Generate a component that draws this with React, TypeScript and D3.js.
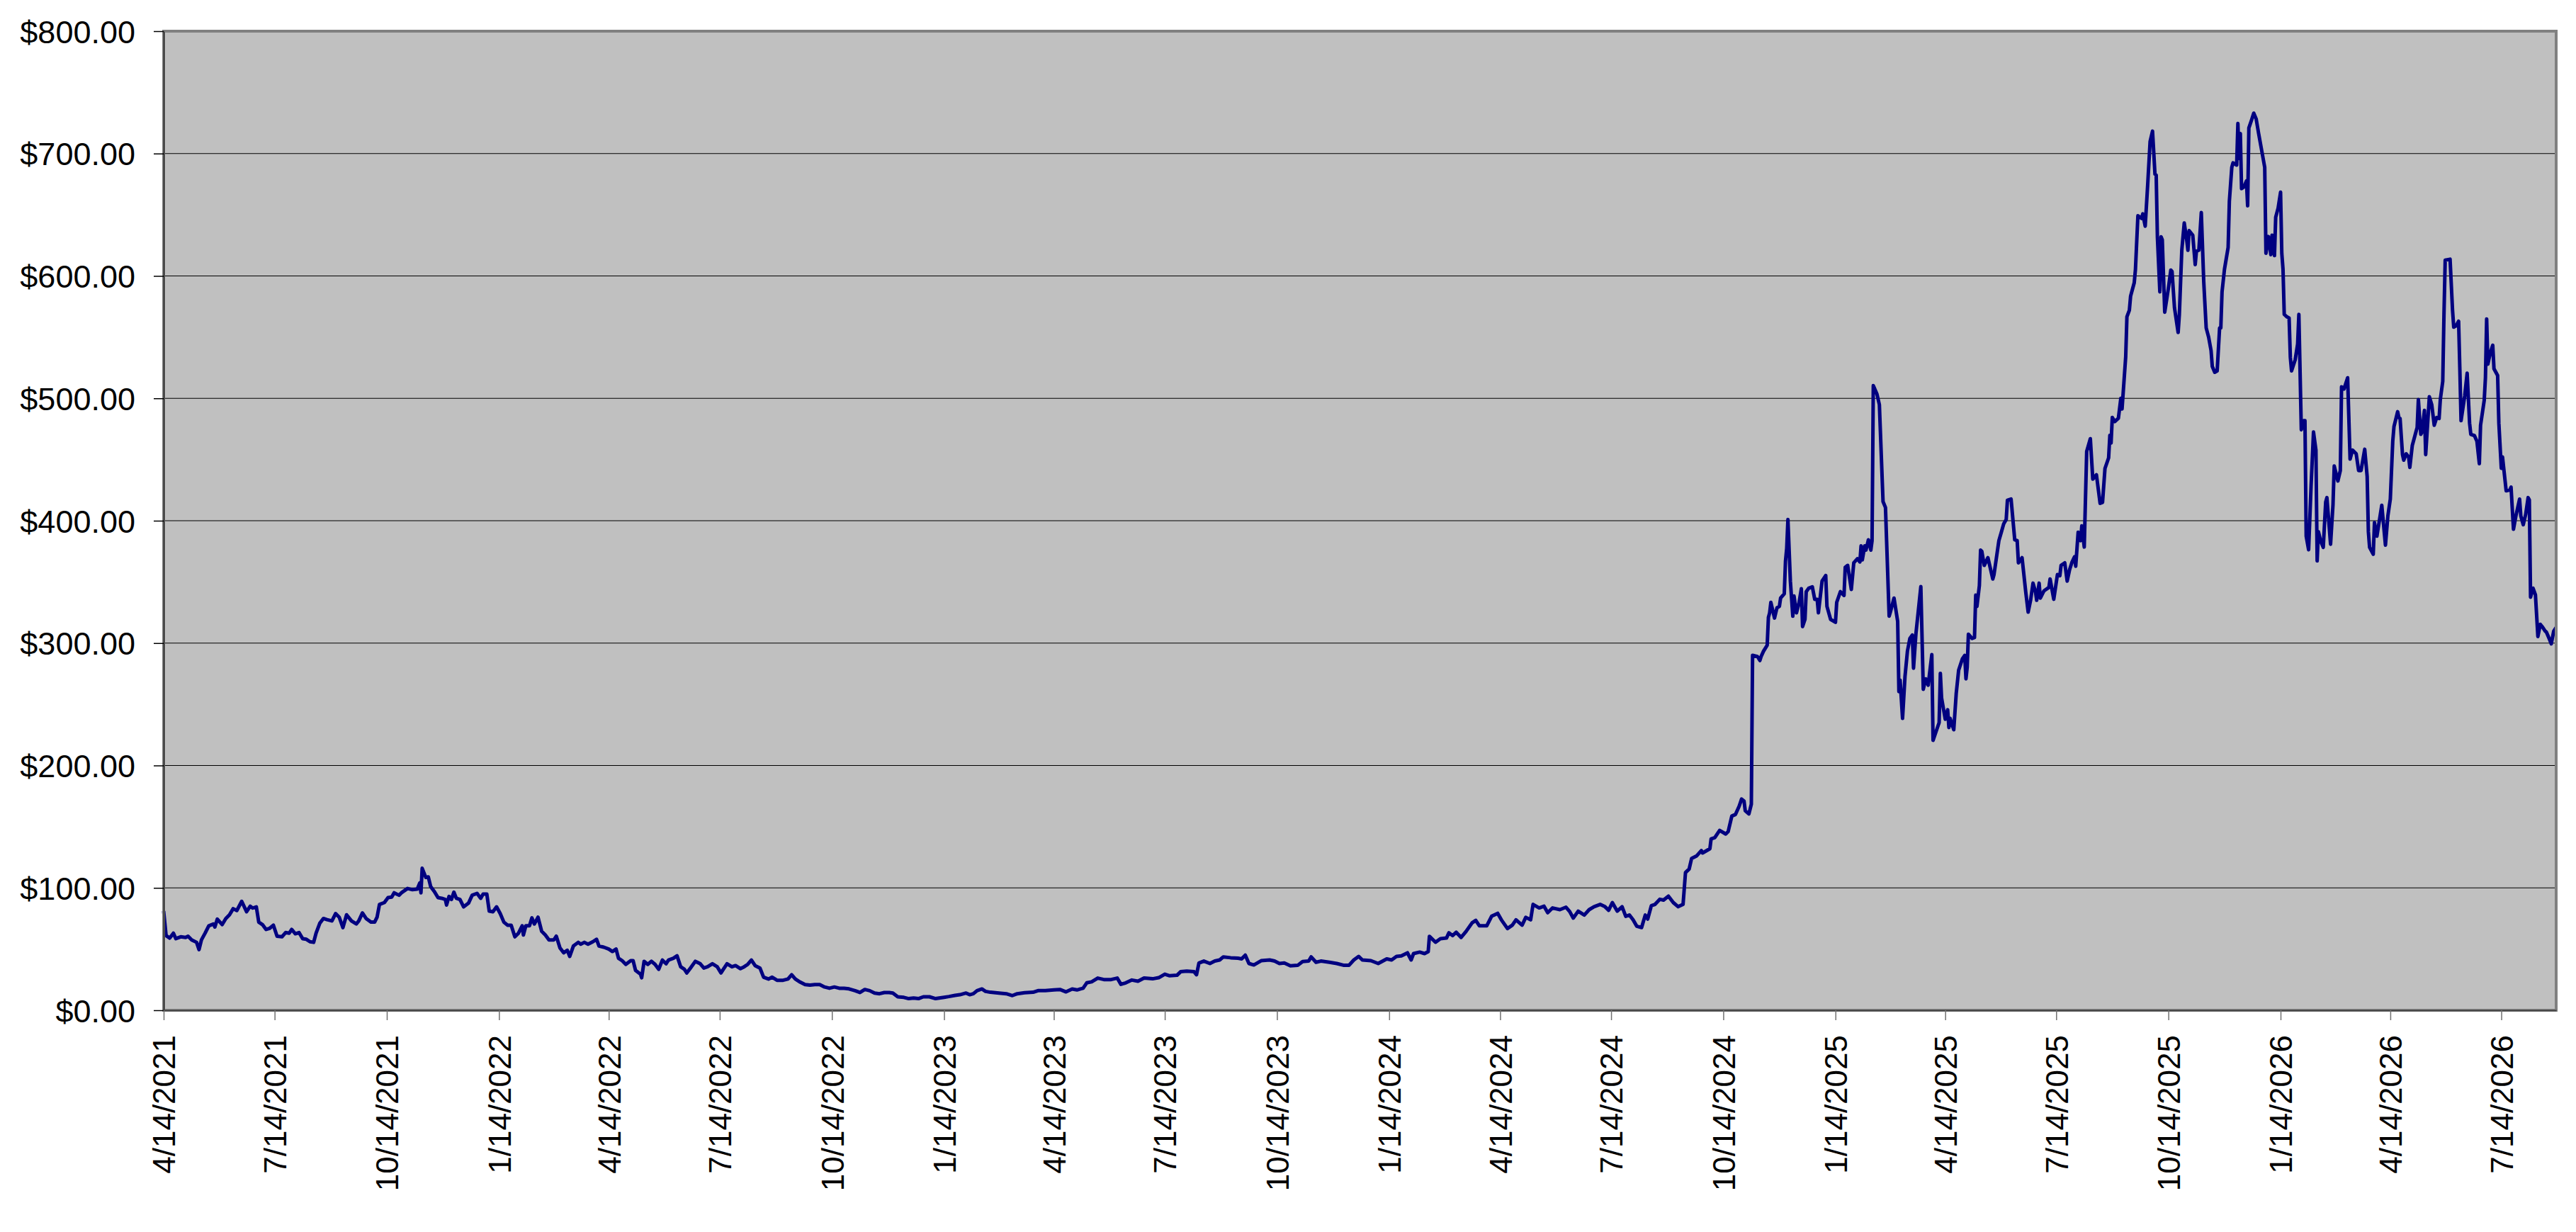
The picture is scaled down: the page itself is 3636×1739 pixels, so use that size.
import React, { useEffect, useRef } from "react";
import * as d3 from "d3";

type Point = [string, number];

// closing price readings, grouped by year
const prices2021: Point[] = [
  ["2021-04-14", 81], ["2021-04-16", 61], ["2021-04-19", 59], ["2021-04-22", 63], ["2021-04-24", 58.5],
  ["2021-04-28", 60], ["2021-05-02", 59.5], ["2021-05-04", 60.5], ["2021-05-07", 57.5], ["2021-05-11", 55.5],
  ["2021-05-13", 49.5], ["2021-05-15", 57.5], ["2021-05-18", 63], ["2021-05-21", 69], ["2021-05-25", 70.5],
  ["2021-05-26", 68], ["2021-05-28", 74.5], ["2021-06-01", 70], ["2021-06-04", 75], ["2021-06-07", 78],
  ["2021-06-10", 83], ["2021-06-13", 81.5], ["2021-06-17", 89], ["2021-06-21", 80.5], ["2021-06-24", 85],
  ["2021-06-26", 83.5], ["2021-06-29", 84.5], ["2021-07-01", 72], ["2021-07-04", 70], ["2021-07-07", 66],
  ["2021-07-10", 67], ["2021-07-13", 69.5], ["2021-07-16", 60.5], ["2021-07-20", 60], ["2021-07-23", 63.5],
  ["2021-07-26", 63], ["2021-07-28", 66], ["2021-07-31", 62.5], ["2021-08-03", 63.5], ["2021-08-06", 58.5],
  ["2021-08-09", 58], ["2021-08-12", 56], ["2021-08-15", 55.5], ["2021-08-17", 63], ["2021-08-20", 71],
  ["2021-08-23", 75], ["2021-08-26", 74], ["2021-08-30", 73], ["2021-09-02", 79], ["2021-09-05", 76],
  ["2021-09-08", 67.5], ["2021-09-11", 78], ["2021-09-15", 73], ["2021-09-19", 70.5], ["2021-09-21", 73],
  ["2021-09-24", 79.5], ["2021-09-27", 75], ["2021-10-01", 72], ["2021-10-04", 72], ["2021-10-06", 76],
  ["2021-10-08", 86.5], ["2021-10-12", 88], ["2021-10-15", 92], ["2021-10-18", 92.5], ["2021-10-20", 96],
  ["2021-10-24", 94], ["2021-10-26", 96], ["2021-10-31", 99.5], ["2021-11-04", 98.5], ["2021-11-08", 99],
  ["2021-11-10", 104], ["2021-11-11", 96], ["2021-11-12", 116], ["2021-11-15", 108.5], ["2021-11-17", 109],
  ["2021-11-19", 101], ["2021-11-22", 97], ["2021-11-25", 92], ["2021-11-28", 91.5], ["2021-12-01", 90.5],
  ["2021-12-02", 86], ["2021-12-04", 93], ["2021-12-06", 90.5], ["2021-12-08", 96.5], ["2021-12-10", 91.5],
  ["2021-12-13", 90.5], ["2021-12-16", 84.5], ["2021-12-20", 87.5], ["2021-12-23", 94], ["2021-12-27", 95.5],
  ["2021-12-30", 91.5],
];

const prices2022: Point[] = [
  ["2022-01-01", 95], ["2022-01-04", 95], ["2022-01-06", 81], ["2022-01-09", 80.5], ["2022-01-12", 84.5],
  ["2022-01-15", 79], ["2022-01-18", 72], ["2022-01-21", 69.5], ["2022-01-24", 69.5], ["2022-01-27", 60],
  ["2022-01-30", 63], ["2022-02-02", 69], ["2022-02-03", 61.5], ["2022-02-05", 69], ["2022-02-08", 69],
  ["2022-02-10", 75.5], ["2022-02-12", 70.5], ["2022-02-15", 76], ["2022-02-18", 64.5], ["2022-02-21", 61.5],
  ["2022-02-24", 57.5], ["2022-02-28", 57.5], ["2022-03-02", 60.5], ["2022-03-05", 51], ["2022-03-08", 47],
  ["2022-03-11", 49], ["2022-03-13", 44], ["2022-03-16", 52.5], ["2022-03-20", 55.5], ["2022-03-22", 54],
  ["2022-03-25", 55.5], ["2022-03-28", 54], ["2022-04-01", 56], ["2022-04-04", 58], ["2022-04-06", 52.5],
  ["2022-04-10", 51.5], ["2022-04-14", 50], ["2022-04-17", 48], ["2022-04-20", 50], ["2022-04-22", 42.5],
  ["2022-04-25", 40.5], ["2022-04-28", 37.5], ["2022-05-02", 40.5], ["2022-05-04", 40.5], ["2022-05-06", 32.5],
  ["2022-05-10", 29.5], ["2022-05-11", 26.5], ["2022-05-13", 40], ["2022-05-16", 37.5], ["2022-05-19", 40],
  ["2022-05-22", 37.5], ["2022-05-25", 33.5], ["2022-05-28", 41], ["2022-05-31", 38], ["2022-06-02", 41],
  ["2022-06-06", 42.5], ["2022-06-09", 44.5], ["2022-06-12", 35.5], ["2022-06-15", 33.5], ["2022-06-17", 30.5],
  ["2022-06-20", 34.5], ["2022-06-24", 40], ["2022-06-28", 38], ["2022-07-01", 34.5], ["2022-07-04", 35.5],
  ["2022-07-08", 38], ["2022-07-12", 35.5], ["2022-07-15", 30.5], ["2022-07-17", 33.5], ["2022-07-20", 38],
  ["2022-07-24", 35.5], ["2022-07-27", 36.5], ["2022-07-31", 34], ["2022-08-03", 35.5], ["2022-08-06", 37.5],
  ["2022-08-09", 41], ["2022-08-12", 36.5], ["2022-08-16", 34.5], ["2022-08-19", 27], ["2022-08-23", 25.5],
  ["2022-08-26", 27], ["2022-08-30", 24.5], ["2022-09-04", 24.5], ["2022-09-08", 25.5], ["2022-09-11", 29],
  ["2022-09-14", 25.5], ["2022-09-18", 23], ["2022-09-22", 21], ["2022-09-26", 20.5], ["2022-09-30", 21],
  ["2022-10-04", 21], ["2022-10-08", 19], ["2022-10-12", 18], ["2022-10-16", 19], ["2022-10-20", 18],
  ["2022-10-24", 18], ["2022-10-28", 17.5], ["2022-11-02", 16], ["2022-11-06", 14.5], ["2022-11-10", 17],
  ["2022-11-14", 16], ["2022-11-18", 14], ["2022-11-22", 13.5], ["2022-11-26", 14.5], ["2022-11-30", 14.5],
  ["2022-12-03", 14], ["2022-12-07", 11], ["2022-12-12", 10.5], ["2022-12-16", 9.5], ["2022-12-20", 10],
  ["2022-12-24", 9.5], ["2022-12-28", 11],
];

const prices2023: Point[] = [
  ["2023-01-02", 11], ["2023-01-07", 9.5], ["2023-01-14", 10.6], ["2023-01-18", 11.2], ["2023-01-23", 12.2],
  ["2023-01-27", 12.7], ["2023-02-01", 14.1], ["2023-02-04", 12.7], ["2023-02-07", 13.5], ["2023-02-10", 16],
  ["2023-02-14", 17.4], ["2023-02-17", 15.4], ["2023-02-21", 14.7], ["2023-02-28", 14.1], ["2023-03-06", 13.5],
  ["2023-03-11", 12], ["2023-03-15", 13.5], ["2023-03-21", 14.3], ["2023-03-28", 14.7], ["2023-04-01", 16],
  ["2023-04-07", 16], ["2023-04-14", 16.6], ["2023-04-19", 17], ["2023-04-24", 15], ["2023-04-29", 17.4],
  ["2023-05-03", 16.6], ["2023-05-08", 18], ["2023-05-11", 22.4], ["2023-05-15", 23.2], ["2023-05-20", 26.3],
  ["2023-05-25", 25.1], ["2023-05-31", 25.1], ["2023-06-05", 26.3], ["2023-06-08", 21.2], ["2023-06-12", 22.4],
  ["2023-06-17", 24.7], ["2023-06-22", 23.7], ["2023-06-27", 26.3], ["2023-07-04", 25.7], ["2023-07-09", 26.6],
  ["2023-07-14", 29.5], ["2023-07-18", 28.2], ["2023-07-24", 28.6], ["2023-07-27", 31.5], ["2023-08-01", 32],
  ["2023-08-07", 31.5], ["2023-08-09", 29], ["2023-08-11", 38.6], ["2023-08-15", 40.2], ["2023-08-20", 38.2],
  ["2023-08-24", 40.2], ["2023-08-28", 41.1], ["2023-08-31", 43.6], ["2023-09-06", 42.9], ["2023-09-12", 42.5],
  ["2023-09-15", 42], ["2023-09-18", 45], ["2023-09-21", 38.2], ["2023-09-25", 37], ["2023-10-01", 40.5],
  ["2023-10-08", 41.1], ["2023-10-12", 40.2], ["2023-10-16", 38.2], ["2023-10-20", 38.6], ["2023-10-25", 36.3],
  ["2023-10-31", 36.7], ["2023-11-04", 39.8], ["2023-11-09", 40.2], ["2023-11-11", 43.6], ["2023-11-15", 39.2],
  ["2023-11-19", 40.2], ["2023-11-26", 39.2], ["2023-12-02", 38.2], ["2023-12-08", 36.7], ["2023-12-12", 36.7],
  ["2023-12-16", 41.1], ["2023-12-20", 44], ["2023-12-23", 41.1], ["2023-12-30", 40.5],
];

const prices2024: Point[] = [
  ["2024-01-05", 38.2], ["2024-01-12", 42], ["2024-01-16", 41.1], ["2024-01-20", 44], ["2024-01-24", 44.4],
  ["2024-01-29", 46.9], ["2024-02-01", 41.1], ["2024-02-03", 46.3], ["2024-02-08", 47.5], ["2024-02-12", 46.3],
  ["2024-02-15", 47.9], ["2024-02-16", 60.4], ["2024-02-21", 55.6], ["2024-02-25", 58.5], ["2024-03-01", 59],
  ["2024-03-03", 63.3], ["2024-03-06", 61], ["2024-03-09", 63.7], ["2024-03-13", 59.5], ["2024-03-17", 64.3],
  ["2024-03-22", 71.4], ["2024-03-25", 73.4], ["2024-03-28", 69], ["2024-04-03", 69], ["2024-04-07", 76.8],
  ["2024-04-12", 79.2], ["2024-04-15", 73.9], ["2024-04-20", 66.8], ["2024-04-24", 69.5], ["2024-04-27", 73.9],
  ["2024-05-02", 69.5], ["2024-05-05", 75.9], ["2024-05-09", 73.9], ["2024-05-11", 86.5], ["2024-05-16", 83.6],
  ["2024-05-20", 85], ["2024-05-23", 79.7], ["2024-05-27", 83.6], ["2024-06-02", 82.2], ["2024-06-07", 84.2],
  ["2024-06-10", 80.7], ["2024-06-13", 75.3], ["2024-06-17", 81], ["2024-06-22", 77.8], ["2024-06-26", 82.2],
  ["2024-06-30", 84.6], ["2024-07-05", 86.5], ["2024-07-09", 84.6], ["2024-07-12", 81.7], ["2024-07-15", 88],
  ["2024-07-19", 81], ["2024-07-23", 84.6], ["2024-07-26", 76.8], ["2024-07-29", 77.8], ["2024-08-01", 73.9],
  ["2024-08-04", 68.7], ["2024-08-08", 67.6], ["2024-08-11", 77.8], ["2024-08-13", 74.5], ["2024-08-16", 85.5],
  ["2024-08-19", 86.5], ["2024-08-23", 90.7], ["2024-08-26", 90], ["2024-08-30", 93.2], ["2024-09-03", 88],
  ["2024-09-07", 84.6], ["2024-09-11", 86.5], ["2024-09-13", 112.5], ["2024-09-16", 115.4], ["2024-09-18", 124],
  ["2024-09-22", 126], ["2024-09-26", 130.5], ["2024-09-27", 128.5], ["2024-10-03", 132], ["2024-10-04", 140],
  ["2024-10-07", 141], ["2024-10-11", 147], ["2024-10-16", 144], ["2024-10-18", 146], ["2024-10-21", 158.7],
  ["2024-10-24", 160], ["2024-10-27", 166.7], ["2024-10-29", 172.6], ["2024-10-31", 171], ["2024-11-01", 163],
  ["2024-11-04", 160.4], ["2024-11-06", 168.4], ["2024-11-07", 290], ["2024-11-11", 289], ["2024-11-13", 285.8],
  ["2024-11-14", 289], ["2024-11-16", 293.4], ["2024-11-19", 298.3], ["2024-11-20", 321], ["2024-11-21", 324.7],
  ["2024-11-22", 333.3], ["2024-11-25", 320.5], ["2024-11-27", 328.8], ["2024-11-29", 330], ["2024-11-30", 336.8],
  ["2024-12-03", 340.3], ["2024-12-04", 367], ["2024-12-05", 377.4], ["2024-12-06", 401], ["2024-12-08", 350.7],
  ["2024-12-10", 322], ["2024-12-11", 338.5], ["2024-12-13", 324.7], ["2024-12-15", 332.3], ["2024-12-17", 344.4],
  ["2024-12-18", 313.5], ["2024-12-20", 319.4], ["2024-12-21", 342], ["2024-12-23", 344.8], ["2024-12-26", 346],
  ["2024-12-28", 335.8], ["2024-12-30", 335.8], ["2024-12-31", 324.7],
];

const prices2025: Point[] = [
  ["2025-01-03", 350.7], ["2025-01-06", 355.2], ["2025-01-07", 330], ["2025-01-10", 319.4], ["2025-01-14", 317],
  ["2025-01-15", 333.3], ["2025-01-18", 342], ["2025-01-21", 339], ["2025-01-22", 362], ["2025-01-24", 363.5],
  ["2025-01-27", 343.8], ["2025-01-29", 365.6], ["2025-02-01", 369], ["2025-02-03", 366.3], ["2025-02-04", 379.5],
  ["2025-02-05", 368], ["2025-02-07", 379.5], ["2025-02-08", 376], ["2025-02-10", 384.4], ["2025-02-12", 376],
  ["2025-02-13", 383.7], ["2025-02-14", 510.4], ["2025-02-17", 503.5], ["2025-02-19", 494.8], ["2025-02-22", 415.6],
  ["2025-02-24", 410.8], ["2025-02-27", 322], ["2025-02-28", 325.3], ["2025-03-03", 336.8], ["2025-03-06", 317.7],
  ["2025-03-07", 260.4], ["2025-03-08", 269.8], ["2025-03-10", 238.5], ["2025-03-12", 272.6], ["2025-03-14", 293.4],
  ["2025-03-16", 303.8], ["2025-03-18", 306.6], ["2025-03-19", 279.5], ["2025-03-21", 308], ["2025-03-25", 346.2],
  ["2025-03-27", 262.2], ["2025-03-29", 270.8], ["2025-03-31", 265.6], ["2025-04-03", 290.6], ["2025-04-04", 220.5],
  ["2025-04-07", 229.2], ["2025-04-09", 235], ["2025-04-10", 275.3], ["2025-04-11", 255.2], ["2025-04-14", 237.8],
  ["2025-04-16", 245.5], ["2025-04-17", 231], ["2025-04-18", 238.5], ["2025-04-21", 229.2], ["2025-04-23", 258.7],
  ["2025-04-25", 277.8], ["2025-04-28", 287], ["2025-04-30", 290], ["2025-05-01", 270.8], ["2025-05-02", 280.2],
  ["2025-05-03", 307.3], ["2025-05-06", 303.8], ["2025-05-08", 304.5], ["2025-05-09", 339.2], ["2025-05-10", 330],
  ["2025-05-12", 347], ["2025-05-13", 376], ["2025-05-14", 375], ["2025-05-16", 363.5], ["2025-05-19", 369.8],
  ["2025-05-23", 352.4], ["2025-05-24", 356], ["2025-05-28", 383.7], ["2025-05-30", 390.6], ["2025-06-01", 397.6],
  ["2025-06-03", 401], ["2025-06-04", 416.7], ["2025-06-07", 417.7], ["2025-06-10", 384.4], ["2025-06-12", 383.7],
  ["2025-06-13", 365.6], ["2025-06-16", 369.8], ["2025-06-19", 342], ["2025-06-21", 325.3], ["2025-06-23", 335],
  ["2025-06-25", 349], ["2025-06-27", 342], ["2025-06-28", 335], ["2025-06-30", 349], ["2025-07-01", 336.8],
  ["2025-07-04", 342.7], ["2025-07-08", 345.5], ["2025-07-09", 352.4], ["2025-07-12", 335.8], ["2025-07-15", 356],
  ["2025-07-17", 355], ["2025-07-18", 363.5], ["2025-07-21", 365.6], ["2025-07-23", 350.7], ["2025-07-25", 360],
  ["2025-07-27", 366.3], ["2025-07-29", 370.5], ["2025-07-30", 362.8], ["2025-08-01", 390.6], ["2025-08-03", 383.7],
  ["2025-08-04", 395.8], ["2025-08-06", 378.5], ["2025-08-08", 456.6], ["2025-08-11", 467], ["2025-08-13", 434],
  ["2025-08-16", 437.5], ["2025-08-19", 414.2], ["2025-08-21", 415], ["2025-08-23", 442.7], ["2025-08-26", 451.4],
  ["2025-08-27", 469.8], ["2025-08-28", 463.5], ["2025-08-29", 484.4], ["2025-08-31", 481], ["2025-09-03", 483.7],
  ["2025-09-05", 500], ["2025-09-06", 491.3], ["2025-09-09", 534], ["2025-09-10", 566.7], ["2025-09-12", 572],
  ["2025-09-13", 583.4], ["2025-09-16", 594.5], ["2025-09-17", 605.5], ["2025-09-19", 649.2], ["2025-09-22", 647],
  ["2025-09-23", 650.7], ["2025-09-25", 640.7], ["2025-09-27", 674], ["2025-09-29", 709.8], ["2025-10-01", 718.3],
  ["2025-10-03", 683.2], ["2025-10-04", 682.4], ["2025-10-05", 631.4], ["2025-10-07", 587], ["2025-10-08", 632],
  ["2025-10-09", 629.6], ["2025-10-11", 570.4], ["2025-10-14", 590], ["2025-10-16", 604.8], ["2025-10-17", 603.7],
  ["2025-10-19", 574], ["2025-10-22", 553.8], ["2025-10-23", 568.6], ["2025-10-25", 621], ["2025-10-27", 643.3],
  ["2025-10-29", 629.6], ["2025-10-30", 621], ["2025-10-31", 637], ["2025-11-03", 633.3], ["2025-11-05", 609.2],
  ["2025-11-06", 620.3], ["2025-11-08", 621], ["2025-11-10", 651.8], ["2025-11-12", 595.2], ["2025-11-14", 557.5],
  ["2025-11-16", 550], ["2025-11-18", 539], ["2025-11-19", 526], ["2025-11-21", 521.3], ["2025-11-23", 522.4],
  ["2025-11-25", 557.5], ["2025-11-26", 557.5], ["2025-11-27", 587], ["2025-11-29", 605.5], ["2025-12-02", 623.3],
  ["2025-12-03", 661], ["2025-12-05", 688.7], ["2025-12-06", 692.4], ["2025-12-09", 690.6], ["2025-12-10", 724.6],
  ["2025-12-11", 696], ["2025-12-12", 716.4], ["2025-12-13", 671.3], ["2025-12-15", 672.8], ["2025-12-17", 677.6],
  ["2025-12-18", 657.3], ["2025-12-19", 720.9], ["2025-12-21", 726.8], ["2025-12-23", 733], ["2025-12-25", 728.3],
  ["2025-12-27", 716.4], ["2025-12-31", 694.3],
];

const prices2026: Point[] = [
  ["2026-01-01", 688.7], ["2026-01-02", 618.5], ["2026-01-04", 632.2], ["2026-01-06", 617.4], ["2026-01-07", 633.3],
  ["2026-01-09", 616.6], ["2026-01-10", 648], ["2026-01-12", 655.5], ["2026-01-14", 668.4], ["2026-01-15", 618.5],
  ["2026-01-16", 605.5], ["2026-01-17", 568.6], ["2026-01-19", 566.7], ["2026-01-21", 565.6], ["2026-01-22", 533.5],
  ["2026-01-23", 522.4], ["2026-01-26", 531.6], ["2026-01-28", 544.5], ["2026-01-29", 568.6], ["2026-01-31", 474.3],
  ["2026-02-02", 481.7], ["2026-02-03", 481.7], ["2026-02-04", 387.4], ["2026-02-06", 376.3], ["2026-02-08", 428],
  ["2026-02-10", 472.5], ["2026-02-12", 457.7], ["2026-02-13", 367.1], ["2026-02-14", 391.1], ["2026-02-16", 383],
  ["2026-02-18", 378.2], ["2026-02-20", 415.2], ["2026-02-21", 418.9], ["2026-02-24", 380.8], ["2026-02-26", 413.3],
  ["2026-02-27", 444.7], ["2026-03-02", 432.5], ["2026-03-04", 441], ["2026-03-05", 509.4], ["2026-03-07", 507.6],
  ["2026-03-10", 516.8], ["2026-03-12", 450.3], ["2026-03-14", 457.7], ["2026-03-17", 454.7], ["2026-03-19", 441],
  ["2026-03-21", 441], ["2026-03-24", 458.4], ["2026-03-26", 436.2], ["2026-03-27", 391.1], ["2026-03-28", 378.2],
  ["2026-03-31", 372.6], ["2026-04-01", 398.5], ["2026-04-03", 387.4], ["2026-04-07", 412.6], ["2026-04-10", 380],
  ["2026-04-12", 404], ["2026-04-14", 417.7], ["2026-04-16", 465], ["2026-04-17", 476.9], ["2026-04-20", 489.1],
  ["2026-04-21", 484.3], ["2026-04-22", 483.5], ["2026-04-24", 454], ["2026-04-25", 449.5], ["2026-04-27", 454.7],
  ["2026-04-29", 452.1], ["2026-04-30", 443.6], ["2026-05-02", 461.4], ["2026-05-05", 472.5], ["2026-05-06", 476.2],
  ["2026-05-07", 499], ["2026-05-09", 470.6], ["2026-05-10", 472.5], ["2026-05-12", 490.2], ["2026-05-13", 454],
  ["2026-05-16", 501.3], ["2026-05-18", 494.6], ["2026-05-20", 478], ["2026-05-22", 484.3], ["2026-05-24", 483.5],
  ["2026-05-25", 499], ["2026-05-27", 513.9], ["2026-05-28", 568.6], ["2026-05-29", 612.9], ["2026-06-02", 613.7],
  ["2026-06-04", 572.3], ["2026-06-05", 558.2], ["2026-06-07", 559.3], ["2026-06-09", 563], ["2026-06-10", 524.2],
  ["2026-06-11", 481.7], ["2026-06-14", 502], ["2026-06-16", 520.5], ["2026-06-18", 479.8], ["2026-06-19", 470.6],
  ["2026-06-22", 469.5], ["2026-06-24", 465], ["2026-06-26", 446.6], ["2026-06-27", 478], ["2026-06-30", 498.3],
  ["2026-07-01", 516.8], ["2026-07-02", 564.9], ["2026-07-03", 528], ["2026-07-05", 537.2], ["2026-07-07", 543.4],
  ["2026-07-08", 524.2], ["2026-07-11", 518.7], ["2026-07-12", 479.8], ["2026-07-14", 442.9], ["2026-07-15", 452.1],
  ["2026-07-18", 424.4], ["2026-07-21", 425.1], ["2026-07-22", 427.4], ["2026-07-24", 393], ["2026-07-26", 404],
  ["2026-07-29", 417.7], ["2026-07-30", 404], ["2026-08-01", 396.7], ["2026-08-03", 405.2], ["2026-08-05", 418.9],
  ["2026-08-06", 417], ["2026-08-07", 337.5], ["2026-08-09", 344.9], ["2026-08-11", 339.4], ["2026-08-13", 305.4],
  ["2026-08-15", 315.3], ["2026-08-17", 312.8], ["2026-08-19", 309.8], ["2026-08-20", 309], ["2026-08-22", 304.3],
  ["2026-08-24", 299.4], ["2026-08-26", 309.8], ["2026-08-28", 312.8],
];

const tickDates = [
  "2021-04-14", "2021-07-14", "2021-10-14", "2022-01-14", "2022-04-14", "2022-07-14",
  "2022-10-14", "2023-01-14", "2023-04-14", "2023-07-14", "2023-10-14", "2024-01-14",
  "2024-04-14", "2024-07-14", "2024-10-14", "2025-01-14", "2025-04-14", "2025-07-14",
  "2025-10-14", "2026-01-14", "2026-04-14", "2026-07-14",
];
const yTicks = [0, 100, 200, 300, 400, 500, 600, 700, 800];
const xDomain = ["2021-04-14", "2026-08-28"];

const WIDTH = 3636;
const HEIGHT = 1739;
const FONT = "'Liberation Sans', Arial, sans-serif";

function PriceChart() {
  const svgRef = useRef<SVGSVGElement>(null);

  useEffect(() => {
    document.body.style.margin = "0";
    const parse = d3.utcParse("%Y-%m-%d");
    const data = [...prices2021, ...prices2022, ...prices2023, ...prices2024, ...prices2025, ...prices2026].map(
      ([d, v]) => ({ date: parse(d) as Date, value: v })
    );

    const left = 231;
    const right = 3608;
    const top = 44;
    const bottom = 1426;

    const x = d3
      .scaleUtc()
      .domain(xDomain.map((d) => parse(d) as Date))
      .range([left, right]);
    const y = d3.scaleLinear().domain([0, 800]).range([bottom, top]);

    const svg = d3.select(svgRef.current);
    svg.selectAll("*").remove();

    // plot area
    svg
      .append("rect")
      .attr("x", left)
      .attr("y", top)
      .attr("width", right - left)
      .attr("height", bottom - top)
      .attr("fill", "#c0c0c0");

    // horizontal gridlines
    svg
      .append("g")
      .selectAll("line")
      .data(yTicks.filter((t) => t > 0 && t < 800))
      .join("line")
      .attr("x1", left)
      .attr("x2", right)
      .attr("y1", (d) => y(d))
      .attr("y2", (d) => y(d))
      .attr("stroke", "#000")
      .attr("stroke-width", 1.2);

    // price line
    const line = d3
      .line<{ date: Date; value: number }>()
      .x((d) => x(d.date))
      .y((d) => y(d.value));
    svg
      .append("path")
      .datum(data)
      .attr("d", line)
      .attr("fill", "none")
      .attr("stroke", "#000080")
      .attr("stroke-width", 5)
      .attr("stroke-linejoin", "round");

    // plot border
    svg
      .append("rect")
      .attr("x", left)
      .attr("y", top)
      .attr("width", right - left)
      .attr("height", bottom - top)
      .attr("fill", "none")
      .attr("stroke", "#808080")
      .attr("stroke-width", 4);

    // y axis
    const yAxis = d3
      .axisLeft(y)
      .tickValues(yTicks)
      .tickSize(14)
      .tickSizeOuter(0)
      .tickPadding(26)
      .tickFormat((d) => `$${d3.format(".2f")(d as number)}`);
    svg
      .append("g")
      .attr("transform", `translate(${left},0)`)
      .call(yAxis)
      .call((g) => g.select(".domain").attr("stroke", "#202020").attr("stroke-width", 1.5))
      .call((g) => g.selectAll(".tick line").attr("stroke", "#000").attr("stroke-width", 1.5))
      .call((g) =>
        g.selectAll(".tick text").attr("fill", "#000").attr("dy", "0.36em").style("font-size", "45px")
      )
      .attr("font-family", FONT);

    // x axis
    const xAxis = d3
      .axisBottom(x)
      .tickValues(tickDates.map((d) => parse(d) as Date))
      .tickSize(14)
      .tickSizeOuter(0)
      .tickFormat((d) => d3.utcFormat("%-m/%-d/%Y")(d as Date));
    svg
      .append("g")
      .attr("transform", `translate(0,${bottom})`)
      .call(xAxis)
      .call((g) => g.select(".domain").attr("stroke", "#404040").attr("stroke-width", 2))
      .call((g) => g.selectAll(".tick line").attr("stroke", "#707070").attr("stroke-width", 1.5))
      .call((g) =>
        g
          .selectAll(".tick text")
          .attr("fill", "#000")
          .attr("transform", "rotate(-90)")
          .attr("text-anchor", "end")
          .attr("x", -35)
          .attr("y", 0)
          .attr("dy", "0.36em")
          .style("font-size", "44px")
      )
      .attr("font-family", FONT);
  }, []);

  return <svg ref={svgRef} width={WIDTH} height={HEIGHT} style={{ display: "block", background: "#fff" }} />;
}

export default function App() {
  return <PriceChart />;
}
